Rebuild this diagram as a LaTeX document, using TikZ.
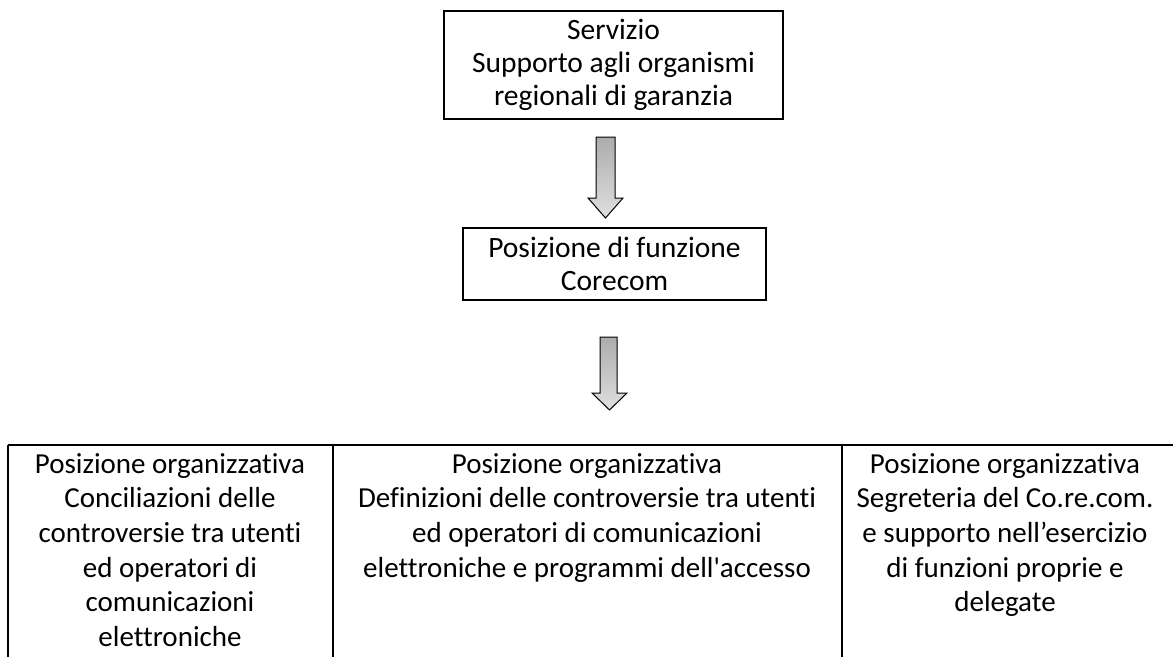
\documentclass[tikz,border=0pt]{standalone}
\usepackage{fontspec}
\setmainfont{Carlito}[Ligatures={NoCommon}]
\begin{document}
\begin{tikzpicture}[x=1pt,y=-1pt,
  box/.style={draw=black,line width=1.5pt,align=center,inner sep=0pt,
    font=\fontsize{29.5}{33}\selectfont},
  cell/.style={align=center,inner sep=0pt,anchor=north,
    font=\fontsize{29}{34.7}\selectfont},
  blockarrow/.style={draw=black,line width=1pt,top color=gray!65,bottom color=gray!25},
  rule/.style={line width=1.5pt}]
\useasboundingbox (0,0) rectangle (1173,657);
% boxes
\node[box,minimum width=339pt,minimum height=108pt] (serv) at (613.5,65)
  {Servizio\\Supporto agli organismi\\regionali di garanzia};
\node[box,minimum width=303pt,minimum height=72pt] (pf) at (614.5,264)
  {Posizione di funzione\\Corecom};
% block arrows
\draw[blockarrow] (596,137) -- (615,137) -- (615,198) -- (623,198) -- (605.5,218)
  -- (588,198) -- (596,198) -- cycle;
\draw[blockarrow] (600,337) -- (617,337) -- (617,393) -- (627,393) -- (609.5,410)
  -- (592,393) -- (600,393) -- cycle;
% table
\coordinate (tl) at (8,445);
\coordinate (tr) at (1173,445);
\coordinate (c1) at (333,445);
\coordinate (c2) at (842,445);
\draw[rule] (tl) -- (tr);
\draw[rule] (tl) -- (8,657);
\draw[rule] (c1) -- (333,657);
\draw[rule] (c2) -- (842,657);
\node[cell] (po1) at (170,453)
  {Posizione organizzativa\\Conciliazioni delle\\controversie tra utenti\\ed operatori di\\comunicazioni\\elettroniche};
\node[cell] (po2) at (587,453)
  {Posizione organizzativa\\Definizioni delle controversie tra utenti\\ed operatori di comunicazioni\\elettroniche e programmi dell\textquotesingle accesso};
\node[cell] (po3) at (1005,453)
  {Posizione organizzativa\\Segreteria del Co.re.com.\\e supporto nell’esercizio\\di funzioni proprie e\\delegate};
\end{tikzpicture}
\end{document}
